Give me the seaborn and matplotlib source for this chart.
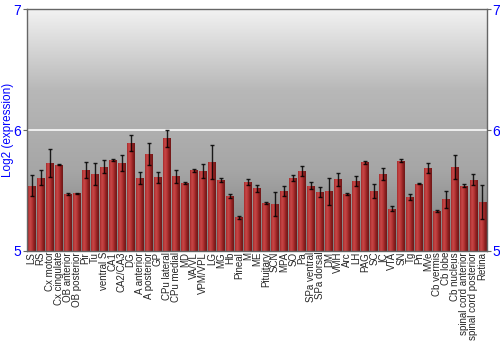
import numpy as np
import pandas as pd
import matplotlib
matplotlib.use("Agg")
import matplotlib.pyplot as plt
import seaborn as sns
from matplotlib.colors import LinearSegmentedColormap

regions = ["LS", "RS", "Cx motor", "Cx cingulate", "OB anterior", "OB posterior",
           "Pir", "Tu", "ventral S", "CA1", "CA2/CA3", "DG", "A anterior",
           "A posterior", "GP", "CPu lateral", "CPu medial", "MD", "VA/VL",
           "VPM/VPL", "LG", "MG", "Hb", "Pineal", "M", "ME", "Pituitary", "SCN",
           "MPA", "SO", "Pa", "SPa ventral", "SPa dorsal", "DM", "VMH", "Arc",
           "LH", "PAG", "SC", "IC", "VTA", "SN", "Tg", "Pn", "MVe", "Cb vermis",
           "Cb lobe", "Cb nucleus", "spinal cord anterior", "spinal cord posterior",
           "Retina"]
expression = [5.536, 5.605, 5.724, 5.713, 5.470, 5.475, 5.668, 5.635, 5.696,
              5.751, 5.727, 5.892, 5.602, 5.801, 5.608, 5.931, 5.616, 5.561,
              5.666, 5.660, 5.735, 5.583, 5.453, 5.276, 5.572, 5.517, 5.395,
              5.387, 5.494, 5.600, 5.657, 5.539, 5.486, 5.492, 5.591, 5.470,
              5.575, 5.732, 5.494, 5.635, 5.348, 5.746, 5.445, 5.555, 5.685,
              5.331, 5.425, 5.693, 5.539, 5.586, 5.403]
error = [0.087, 0.064, 0.117, 0.005, 0.010, 0.004, 0.070, 0.088, 0.055,
         0.005, 0.066, 0.069, 0.047, 0.095, 0.044, 0.073, 0.052, 0.005,
         0.012, 0.060, 0.138, 0.017, 0.017, 0.012, 0.024, 0.030, 0.005,
         0.097, 0.044, 0.025, 0.041, 0.029, 0.043, 0.112, 0.055, 0.010,
         0.040, 0.014, 0.058, 0.052, 0.020, 0.011, 0.025, 0.004, 0.040,
         0.008, 0.072, 0.102, 0.010, 0.046, 0.138]
y_ticks = [5, 6, 7]

df = pd.DataFrame({"region": regions, "expr": expression, "err": error})

sns.set_style("white")
plt.rcParams["font.family"] = ["Liberation Sans", "DejaVu Sans"]

fig = plt.figure(figsize=(5, 3.5), dpi=100)
ax = fig.add_axes([0.054, 0.284, 0.920, 0.689])

# background gradient
bg = LinearSegmentedColormap.from_list("bg", ["#7c7c7c", "#a6a6a6", "#b8b8b8", "#f2f2f2"], N=256)
grad = np.linspace(0, 1, 256).reshape(-1, 1)
n = len(regions)
ax.imshow(grad, aspect="auto", cmap=bg, origin="lower",
          extent=(-0.5, n - 0.5, 5, 7), zorder=0)

sns.barplot(data=df, x="region", y="expr", color="#b83434", width=0.88,
            errorbar=None, ax=ax, zorder=2, linewidth=0)

ax.set_xlim(-0.5, n - 0.5)
ax.set_ylim(5, 7)

# horizontal gradient on each bar
barcm = LinearSegmentedColormap.from_list("bar", ["#a52a2a", "#c84848", "#b83636", "#8e2020", "#6e1818"])
hgrad = np.linspace(0, 1, 64).reshape(1, -1)
for p in list(ax.patches):
    x0, w = p.get_x(), p.get_width()
    top = p.get_y() + p.get_height()
    ax.imshow(hgrad, aspect="auto", cmap=barcm,
              extent=(x0, x0 + w, 5, top), zorder=2.5)

ax.errorbar(np.arange(n), df["expr"], yerr=df["err"], fmt="none",
            ecolor="black", elinewidth=1.0, capsize=1.6, capthick=1.0,
            alpha=0.85, zorder=4)

ax.axhline(6, color="#f4f4f4", lw=1.3, zorder=1)

ax.set_xlim(-0.5, n - 0.5)
ax.set_ylim(5, 7)
ax.set_yticks(y_ticks)
ax.set_yticklabels([str(t) for t in y_ticks])
ax.tick_params(axis="y", which="both", left=True, right=True, labelleft=True,
               labelright=True, labelcolor="blue", labelsize=10, length=3,
               color="#666666", pad=1)
ax.tick_params(axis="x", length=0, labelsize=7, pad=1)
plt.setp(ax.get_xticklabels(), rotation=90)
ax.set_xlabel("")
ax.set_ylabel("Log2 (expression)", color="blue", fontsize=8.5, labelpad=0)
for s in ax.spines.values():
    s.set_color("#666666")
    s.set_linewidth(1)

fig.savefig("out.png", dpi=100)
